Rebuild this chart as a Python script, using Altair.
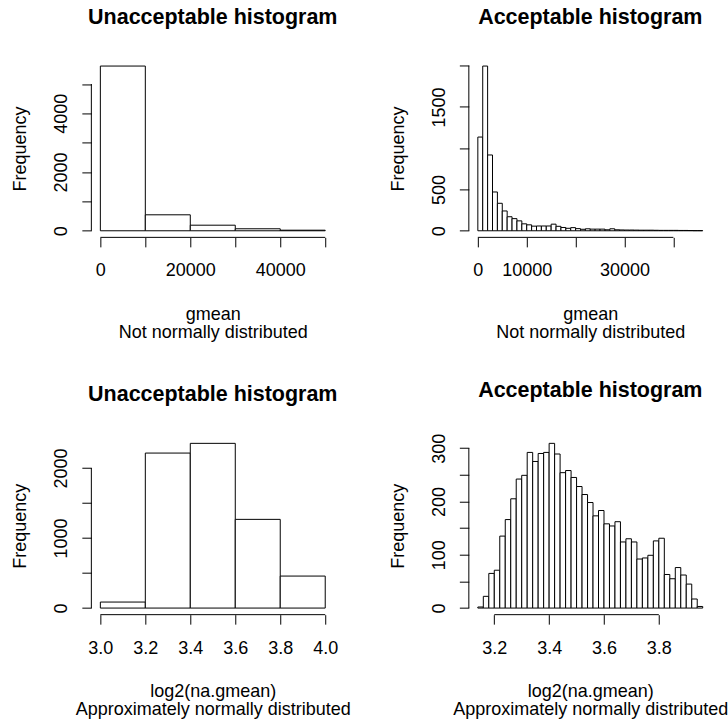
import altair as alt
import pandas as pd

FONT = "Liberation Sans"
W, H = 243, 178  # plot region of each panel

# ---- gmean, coarse bins (width 10000) ----
tl_edges = [0, 10000, 20000, 30000, 40000, 50000]
tl_counts = [5612, 544, 190, 68, 20]
tl_xticks = [0, 10000, 20000, 30000, 40000, 50000]
tl_xlabels = [0, 20000, 40000]
tl_yticks = [0, 1000, 2000, 3000, 4000, 5000]
tl_ylabels = [0, 2000, 4000]

# ---- gmean, fine bins (width 1000) ----
tr_edges = [0, 1000, 2000, 3000, 4000, 5000, 6000, 7000, 8000, 9000,
            10000, 11000, 12000, 13000, 14000, 15000, 16000, 17000, 18000, 19000,
            20000, 21000, 22000, 23000, 24000, 25000, 26000, 27000, 28000, 29000,
            30000, 31000, 32000, 33000, 34000, 35000, 36000, 37000, 38000, 39000,
            40000, 41000, 42000, 43000, 44000, 45000, 46000]
tr_counts = [1135, 1995, 918, 470, 333, 240, 170, 147, 120, 84,
             72, 56, 58, 58, 58, 80, 54, 40, 30, 38,
             26, 18, 24, 20, 20, 20, 12, 24, 12, 10,
             9, 9, 8, 7, 7, 7, 6, 5, 5, 5,
             5, 4, 4, 3, 2, 2]
tr_xticks = [0, 10000, 20000, 30000, 40000]
tr_xlabels = [0, 10000, 30000]
tr_yticks = [0, 500, 1000, 1500, 2000]
tr_ylabels = [0, 500, 1500]

# ---- log2(na.gmean), coarse bins (width 0.2) ----
bl_edges = [3.0, 3.2, 3.4, 3.6, 3.8, 4.0]
bl_counts = [86, 2214, 2353, 1267, 457]
bl_xticks = [3.0, 3.2, 3.4, 3.6, 3.8, 4.0]
bl_xlabels = [3.0, 3.2, 3.4, 3.6, 3.8, 4.0]
bl_yticks = [0, 500, 1000, 1500, 2000]
bl_ylabels = [0, 1000, 2000]

# ---- log2(na.gmean), fine bins (width 0.02) ----
br_edges = [3.14, 3.16, 3.18, 3.20, 3.22, 3.24, 3.26, 3.28, 3.30, 3.32,
            3.34, 3.36, 3.38, 3.40, 3.42, 3.44, 3.46, 3.48, 3.50, 3.52,
            3.54, 3.56, 3.58, 3.60, 3.62, 3.64, 3.66, 3.68, 3.70, 3.72,
            3.74, 3.76, 3.78, 3.80, 3.82, 3.84, 3.86, 3.88, 3.90, 3.92,
            3.94, 3.96]
br_counts = [2, 22, 65, 71, 135, 166, 205, 242, 249, 292,
             275, 290, 292, 309, 289, 254, 258, 245, 228, 213,
             198, 173, 183, 158, 154, 162, 124, 130, 124, 92,
             94, 99, 126, 131, 63, 55, 76, 62, 45, 17,
             3]
br_xticks = [3.2, 3.4, 3.6, 3.8]
br_xlabels = [3.2, 3.4, 3.6, 3.8]
br_yticks = [0, 50, 100, 150, 200, 250, 300]
br_ylabels = [0, 100, 200, 300]

TITLE_BAD = "Unacceptable histogram"
TITLE_OK = "Acceptable histogram"
XT_RAW = ["gmean", "Not normally distributed"]
XT_LOG = ["log2(na.gmean)", "Approximately normally distributed"]


def padded(lo, hi):
    ext = (hi - lo) * 0.04
    return [lo - ext, hi + ext]


def shown(vals):
    return "indexof([" + ",".join(repr(v) for v in vals) + "], datum.value) >= 0 ? datum.label : ''"


def panel(title, edges, counts, xticks, xlabels, yticks, ylabels, xtitle, xfmt):
    bars = pd.DataFrame({"lo": edges[:-1], "hi": edges[1:], "count": counts})
    xs = alt.Scale(domain=padded(edges[0], edges[-1]), nice=False, zero=False)
    ys = alt.Scale(domain=padded(0, max(counts)), nice=False, zero=False)

    x_axis = alt.Axis(
        values=xticks, format=xfmt, labelExpr=shown(xlabels),
        domain=False, grid=False, ticks=True, tickSize=9.5, tickWidth=1, tickColor="black",
        labelFont=FONT, labelFontSize=18, labelColor="black", labelBaseline="alphabetic",
        labelPadding=29, labelOverlap=False, labelFlush=False, labelBound=False,
        title=xtitle, titleFont=FONT, titleFontSize=18, titleFontWeight="normal",
        titleColor="black", titleBaseline="alphabetic", titleAlign="center",
        titleX=W / 2, titleY=82, titleLineHeight=18,
    )
    y_axis = alt.Axis(
        values=yticks, format="d", labelExpr=shown(ylabels),
        domain=False, grid=False, ticks=True, tickSize=9.5, tickWidth=1, tickColor="black",
        labelFont=FONT, labelFontSize=18, labelColor="black", labelAngle=270,
        labelAlign="center", labelBaseline="alphabetic", labelPadding=15.3,
        labelOverlap=False, labelFlush=False, labelBound=False,
        title="Frequency", titleFont=FONT, titleFontSize=18, titleFontWeight="normal",
        titleColor="black", titleAngle=270, titleAlign="center", titleBaseline="alphabetic",
        titleX=-65.7, titleY=H / 2,
    )

    rects = alt.Chart(bars).mark_rect(fill="white", stroke="black", strokeWidth=1).encode(
        x=alt.X("lo:Q", scale=xs, axis=x_axis),
        x2="hi:Q",
        y=alt.Y("count:Q", scale=ys, axis=y_axis),
        y2=alt.datum(0),
    )
    # axis lines spanning first to last tick only
    xline = alt.Chart(pd.DataFrame({"lo": [xticks[0]], "hi": [xticks[-1]]})).mark_rule(
        color="black", strokeWidth=1
    ).encode(x=alt.X("lo:Q", scale=xs, axis=x_axis), x2="hi:Q", y=alt.value(H))
    yline = alt.Chart(pd.DataFrame({"count": [yticks[0]], "top": [yticks[-1]]})).mark_rule(
        color="black", strokeWidth=1
    ).encode(y=alt.Y("count:Q", scale=ys, axis=y_axis), y2="top:Q", x=alt.value(0))

    return alt.layer(rects, xline, yline).properties(
        width=W, height=H,
        title=alt.Title(title, font=FONT, fontSize=21.5, fontWeight="bold", color="black",
                        anchor="middle", frame="group", baseline="alphabetic", offset=14.4),
    )


tl = panel(TITLE_BAD, tl_edges, tl_counts, tl_xticks, tl_xlabels, tl_yticks, tl_ylabels, XT_RAW, "d")
tr = panel(TITLE_OK, tr_edges, tr_counts, tr_xticks, tr_xlabels, tr_yticks, tr_ylabels, XT_RAW, "d")
bl = panel(TITLE_BAD, bl_edges, bl_counts, bl_xticks, bl_xlabels, bl_yticks, bl_ylabels, XT_LOG, ".1f")
br = panel(TITLE_OK, br_edges, br_counts, br_xticks, br_xlabels, br_yticks, br_ylabels, XT_LOG, ".1f")

chart = alt.concat(
    tl, tr, bl, br,
    columns=2,
    spacing={"row": 199.5, "column": 134.7},
    bounds="flush",
).properties(
    padding={"left": 11.4, "top": 6.3, "right": 0, "bottom": 0},
    background="white",
).configure_view(stroke=None)

chart.save("out.html", embed_options={"renderer": "svg", "actions": False})
